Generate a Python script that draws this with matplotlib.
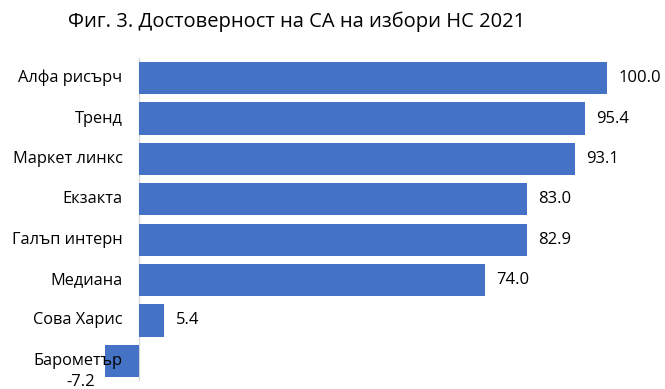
import matplotlib
matplotlib.use("Agg")
import matplotlib.pyplot as plt
from matplotlib.transforms import blended_transform_factory, offset_copy

categories = ["Алфа рисърч", "Тренд", "Маркет линкс", "Екзакта", "Галъп интерн",
              "Медиана", "Сова Харис", "Барометър"]
values = [100.0, 95.4, 93.1, 83.0, 82.9, 74.0, 5.4, -7.2]
title = "Фиг. 3. Достоверност на СА на избори НС 2021"

plt.rcParams['font.family'] = ['Open Sans', 'DejaVu Sans']

W, H = 665, 389
fig = plt.figure(figsize=(W / 100, H / 100), dpi=100)
ax = fig.add_axes([105 / W, 1 - 381 / H, 502 / W, (381 - 58) / H])

y = list(range(len(categories)))
ax.barh(y, values, height=0.8, color="#4472C4", zorder=2)
ax.set_xlim(-7.3, 100)
ax.set_ylim(len(categories) - 0.5, -0.5)
ax.axvline(0, color="#d9d9d9", lw=1, zorder=1)

for s in ax.spines.values():
    s.set_visible(False)
ax.set_xticks([])
ax.set_yticks([])

lab_tr = offset_copy(ax.transData, fig=fig, x=-12, y=0, units="points")
for yi, c in zip(y, categories):
    ax.text(0, yi, c, transform=lab_tr, ha="right", va="center", fontsize=11.8,
            zorder=6, clip_on=False)

for yi, v in zip(y, values):
    if v >= 0:
        ax.annotate(f"{v:.1f}", xy=(v, yi), xytext=(8, 0), textcoords="offset points",
                    ha="left", va="center", fontsize=12, annotation_clip=False)
    else:
        ax.annotate(f"{v:.1f}", xy=(v, yi), xytext=(-18, -15), textcoords="offset points",
                    ha="center", va="center", fontsize=12, annotation_clip=False,
                    zorder=6)

fig.text(68 / W, 1 - 22 / H, title, fontsize=14.5, ha="left", va="center")

fig.savefig("out.png", dpi=100)
